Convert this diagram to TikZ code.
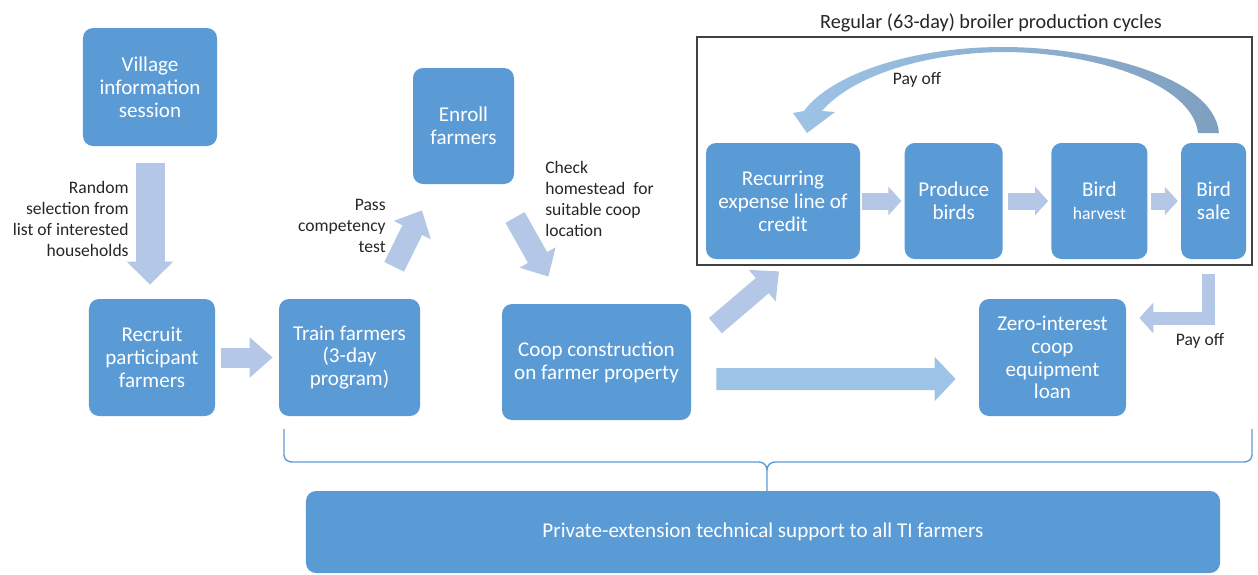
\documentclass[tikz,border=0pt]{standalone}
\usepackage{fontspec}
\setmainfont{Carlito}
\usepackage{xcolor}
\usepackage{tikz}
\usetikzlibrary{arrows.meta,positioning}

\definecolor{boxblue}{HTML}{5B9BD5}
\definecolor{arrowblue}{HTML}{B4C7E7}
\definecolor{longblue}{HTML}{9DC3E6}
\definecolor{curveright}{HTML}{7F9FBF}
\definecolor{curvemid}{HTML}{D2E2F2}
\definecolor{framegray}{HTML}{404040}
\definecolor{notegray}{HTML}{262626}

\begin{document}
\begin{tikzpicture}[
        x=0.2mm, y=-0.2mm,
        procbox/.style={rectangle, rounded corners=2mm, fill=boxblue, text=white, align=center, inner sep=1mm, minimum height=23.2mm, font=\fontsize{12}{13}\selectfont},
        note/.style={text=notegray, inner sep=0pt, font=\fontsize{10}{12}\selectfont},
        blockarrow/.style={draw=arrowblue, line width=4mm, -{Triangle[width=8mm, length=4.4mm]}},
        cyclearrow/.style={draw=arrowblue, line width=3.4mm, -{Triangle[width=5.6mm, length=2.6mm]}},
        bracket/.style={draw=boxblue, line width=0.8pt}
    ]
        \useasboundingbox (0,0) rectangle (1258,575);

        \node[procbox, minimum width=26.8mm, minimum height=23.6mm] (village) at (150,87) {Village\\information\\session};
        \node[procbox, minimum width=25.2mm, minimum height=23.4mm] (recruit) at (152,357.5) {Recruit\\participant\\farmers};
        \node[procbox, minimum width=28.2mm, minimum height=23.4mm] (train) at (349.5,357.5) {Train farmers\\(3-day\\program)};
        \node[procbox, minimum width=20.2mm] (enroll) at (463.5,126) {Enroll\\farmers};
        \node[procbox, minimum width=37.8mm] (coop) at (596.5,362) {Coop construction\\on farmer property};
        \node[procbox, minimum width=29.4mm, minimum height=23.4mm] (loan) at (1052.5,357.5) {Zero-interest\\coop\\equipment\\loan};
        \node[procbox, minimum width=30.8mm] (recurring) at (783,201) {Recurring\\expense line of\\credit};
        \node[procbox, minimum width=19.6mm, right=8.8mm of recurring] (produce) {Produce\\birds};
        \node[procbox, minimum width=19.2mm, right=9.6mm of produce] (harvest) {Bird\\{\fontsize{10}{13}\selectfont harvest}};
        \node[procbox, minimum width=13mm, right=6.6mm of harvest] (sale) {Bird\\sale};
        \node[procbox, minimum width=182.8mm, minimum height=16.4mm] (support) at (763,532) {Private-extension technical support to all TI farmers};

        \node[draw=framegray, line width=0.8pt, minimum width=111mm, minimum height=45.6mm, inner sep=0pt] (cycleframe) at (974.5,151) {};
        \node[text=notegray, inner sep=0pt, font=\fontsize{11.5}{13}\selectfont] (cycletitle) at (991,23) {Regular (63-day) broiler production cycles};

        \node[note, align=right, anchor=east] (selectnote) at (129,219) {Random\\selection from\\list of interested\\households};
        \node[note, align=right, anchor=east] (passnote) at (386,226) {Pass\\competency\\test};
        \node[note, align=left, anchor=west] (checknote) at (545,199) {Check\\homestead~ for\\suitable coop\\location};
        \node[note] (payoffcurve) at (917,80) {Pay off};
        \node[note] (payoffloan) at (1200,341) {Pay off};

        \draw[blockarrow, line width=5.8mm, -{Triangle[width=9mm, length=4.6mm]}, shorten <=3.4mm, shorten >=2.8mm] (village.south) -- (village.south |- recruit.north);
        \draw[blockarrow, -{Triangle[width=7.8mm, length=4.6mm]}, shorten <=1.2mm, shorten >=1.2mm] (recruit) -- (train);
        \draw[blockarrow, line width=4.4mm, shorten <=7.1mm, shorten >=5.8mm] (train) -- (enroll);
        \draw[blockarrow, line width=4.4mm, shorten <=7.6mm, shorten >=6.2mm] (enroll) -- (coop);
        \draw[blockarrow] ([xshift=4.8mm, yshift=-4.4mm]coop.north east) -- ([xshift=-0.8mm, yshift=-2.4mm]recurring.south);
        \draw[blockarrow, draw=longblue, line width=4.4mm, -{Triangle[width=8.6mm, length=4.2mm]}] ([xshift=5mm, yshift=-3.4mm]coop.east) -- ([xshift=-4.6mm, yshift=-4.3mm]loan.west);
        \draw[cyclearrow, shorten <=0.4mm, shorten >=0.6mm] (recurring) -- (produce);
        \draw[cyclearrow, shorten <=1mm, shorten >=0.6mm] (produce) -- (harvest);
        \draw[cyclearrow, shorten <=0.6mm, shorten >=0.6mm] (harvest) -- (sale);
        \draw[blockarrow, line width=2.6mm, line join=miter, -{Triangle[width=6mm, length=2.8mm]}] ([xshift=-1mm, yshift=-3mm]sale.south) |- ([xshift=2.6mm, yshift=7.9mm]loan.east);

        \shade[left color=longblue, middle color=curvemid, right color=curveright]
            (1219,133) .. controls (1214,75) and (1090,47) .. (1003,47)
            .. controls (910,47) and (830,75) .. (804,111)
            -- (793,113) -- (807,133) -- (835,112) -- (822,111)
            .. controls (850,78) and (920,53) .. (1003,52)
            .. controls (1090,52) and (1192,82) .. (1198,133) -- cycle;

        \draw[bracket] (284,429) -- (284,455) to[out=-90,in=180] (292,462) -- (759,462) to[out=0,in=90] (767,470) -- (767,491);
        \draw[bracket] (767,470) to[out=90,in=180] (775,462) -- (1244,462) to[out=0,in=-90] (1252,455) -- (1252,429);
    \end{tikzpicture}
\end{document}
